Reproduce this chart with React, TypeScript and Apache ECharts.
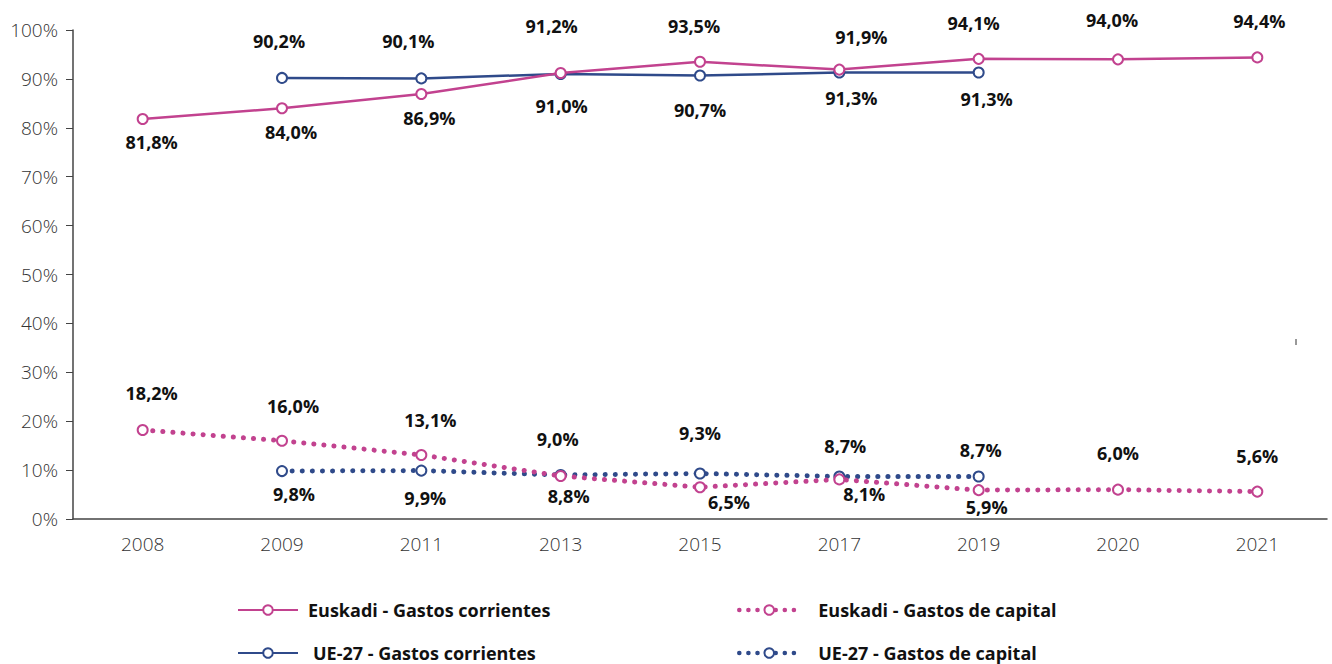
import React, { useEffect, useRef } from "react";
import * as echarts from "echarts";

const years = ["2008", "2009", "2011", "2013", "2015", "2017", "2019", "2020", "2021"];
const euskadiCorrientes = [81.8, 84.0, 86.9, 91.2, 93.5, 91.9, 94.1, 94.0, 94.4];
const ueCorrientes = [null, 90.2, 90.1, 91.0, 90.7, 91.3, 91.3, null, null];
const euskadiCapital = [18.2, 16.0, 13.1, 8.8, 6.5, 8.1, 5.9, 6.0, 5.6];
const ueCapital = [null, 9.8, 9.9, 9.0, 9.3, 8.7, 8.7, null, null];
const yTicks = [0, 10, 20, 30, 40, 50, 60, 70, 80, 90, 100];
const seriesNames = [
  "Euskadi - Gastos corrientes",
  "UE-27 - Gastos corrientes",
  "Euskadi - Gastos de capital",
  "UE-27 - Gastos de capital",
];

const PINK = "#c2428f";
const BLUE = "#2f4a8a";
const FONT = "'Open Sans', 'Noto Sans', sans-serif";

// label placement (offset of the label centre from the marker, in px)
const offEusCorr = [[9, 23], [9, 24], [8, 24], [-9, -47], [-6, -36], [22, -33], [-5, -36], [-6, -39], [2, -36]];
const offUeCorr = [null, [-3, -37], [-13, -37], [1, 32], [0, 35], [12, 25], [8, 26], null, null];
const offEusCap = [[9, -37], [11, -35], [9, -35], [8, 20], [29, 15], [25, 15], [8, 17], [0, -37], [0, -36]];
const offUeCap = [null, [12, 23], [4, 27], [-3, -36], [0, -41], [6, -30], [2, -26], null, null];

const fmt = (v: number) => v.toFixed(1).replace(".", ",") + "%";

function buildData(values: (number | null)[], offs: (number[] | null)[]) {
  return values.map((v, i) =>
    v == null
      ? "-"
      : {
          value: v,
          label: {
            position: "inside",
            offset: offs[i] || [0, -30],
          },
        }
  );
}

function makeSeries(name: string, values: (number | null)[], offs: (number[] | null)[], color: string, dotted: boolean, z: number) {
  return {
    name,
    type: "line",
    z,
    data: buildData(values, offs),
    symbol: "emptyCircle",
    symbolSize: 10,
    showAllSymbol: true,
    connectNulls: false,
    itemStyle: { color, borderColor: color, borderWidth: 2.5 },
    lineStyle: dotted
      ? { color, width: 5, type: [0.1, 10], cap: "round" }
      : { color, width: 2.5, type: "solid" },
    label: {
      show: true,
      formatter: (p: any) => fmt(p.value),
      fontFamily: FONT,
      fontWeight: "bold",
      fontSize: 18,
      color: "#111",
      align: "center",
      verticalAlign: "middle",
    },
    emphasis: { disabled: true },
  };
}

function legendAt(name: string, left: number, top: number, gap: number, dotted: boolean) {
  const lg: any = {
    data: [name],
    left,
    top,
    padding: 0,
    itemWidth: 60,
    itemHeight: 12,
    selectedMode: false,
    textStyle: {
      fontFamily: FONT,
      fontWeight: "bold",
      fontSize: 18,
      color: "#111",
      padding: [0, 0, 0, gap],
    },
  };
  if (dotted) lg.lineStyle = { width: 4.5, type: [0.1, 9], cap: "round" };
  return lg;
}

export default function App() {
  const ref = useRef<HTMLDivElement>(null);
  useEffect(() => {
    if (!ref.current) return;
    const chart = echarts.init(ref.current, undefined, { renderer: "svg" });
    chart.setOption({
      animation: false,
      backgroundColor: "#ffffff",
      grid: { left: 73, right: 5, top: 30, bottom: 145, containLabel: false },
      legend: [
        legendAt(seriesNames[0], 237, 601, 5, false),
        legendAt(seriesNames[2], 737, 601, 14, true),
        legendAt(seriesNames[1], 237, 644, 10, false),
        legendAt(seriesNames[3], 737, 644, 14, true),
      ],
      xAxis: {
        type: "category",
        data: years,
        boundaryGap: true,
        axisLine: { lineStyle: { color: "#444", width: 1.5 } },
        axisTick: { alignWithLabel: true, length: 6, lineStyle: { color: "#444" } },
        axisLabel: {
          fontFamily: FONT,
          fontWeight: 300,
          fontSize: 19,
          color: "#333",
          margin: 15,
        },
      },
      yAxis: {
        type: "value",
        min: yTicks[0],
        max: yTicks[yTicks.length - 1],
        interval: yTicks[1] - yTicks[0],
        axisLine: { show: true, lineStyle: { color: "#444", width: 1.5 } },
        axisTick: { show: true, length: 7, lineStyle: { color: "#444" } },
        splitLine: { show: false },
        axisLabel: {
          formatter: "{value}%",
          fontFamily: FONT,
          fontWeight: 300,
          fontSize: 19,
          color: "#333",
          margin: 15,
        },
      },
      graphic: [
        {
          type: "line",
          shape: { x1: 1296, y1: 339, x2: 1296, y2: 345 },
          style: { stroke: "#333", lineWidth: 1 },
        },
      ],
      series: [
        makeSeries(seriesNames[1], ueCorrientes, offUeCorr, BLUE, false, 2),
        makeSeries(seriesNames[0], euskadiCorrientes, offEusCorr, PINK, false, 3),
        makeSeries(seriesNames[3], ueCapital, offUeCap, BLUE, true, 2),
        makeSeries(seriesNames[2], euskadiCapital, offEusCap, PINK, true, 3),
      ],
    });
    return () => chart.dispose();
  }, []);
  return (
    <div
      ref={ref}
      style={{ position: "absolute", left: 0, top: 0, width: 1332, height: 664 }}
    />
  );
}
